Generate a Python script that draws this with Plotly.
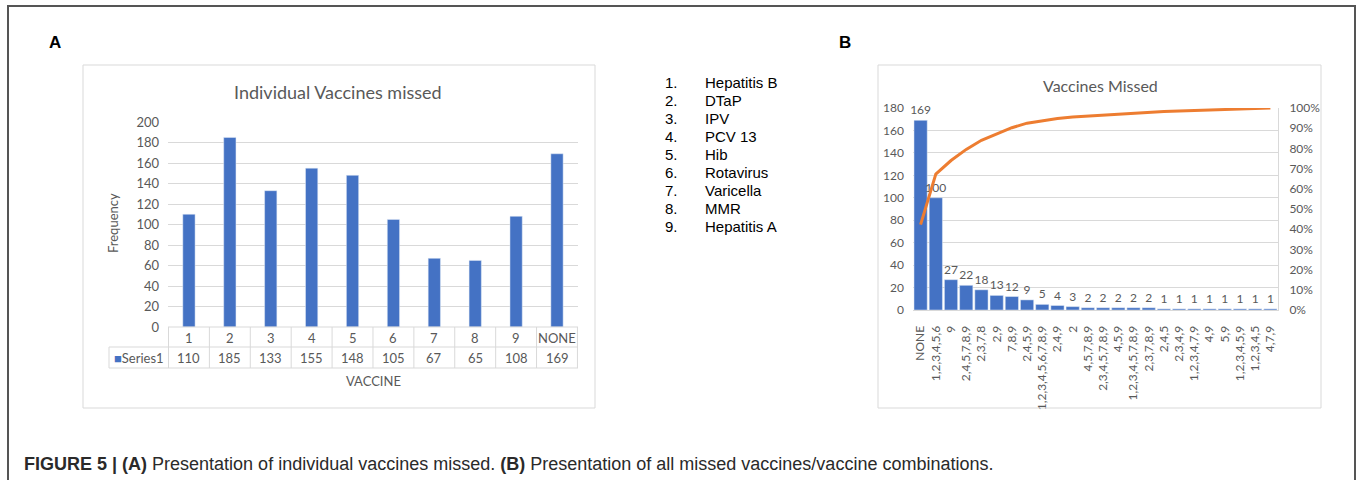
import plotly.graph_objects as go

W, H = 1357, 480

# Panel A: individual vaccines missed
vaccine_ids = ["1", "2", "3", "4", "5", "6", "7", "8", "9", "NONE"]
vaccine_counts = [110, 185, 133, 155, 148, 105, 67, 65, 108, 169]

vaccine_names = ["Hepatitis B", "DTaP", "IPV", "PCV 13", "Hib",
                 "Rotavirus", "Varicella", "MMR", "Hepatitis A"]

# Panel B: all missed vaccine combinations (Pareto)
combo_labels = ["NONE", "1,2,3,4,5,6", "9", "2,4,5,7,8,9", "2,3,7,8", "2,9",
                "7,8,9", "2,4,5,9", "1,2,3,4,5,6,7,8,9", "2,4,9", "2",
                "4,5,7,8,9", "2,3,4,5,7,8,9", "4,5,9", "1,2,3,4,5,7,8,9",
                "2,3,7,8,9", "2,4,5", "2,3,4,9", "1,2,3,4,7,9", "4,9", "5,9",
                "1,2,3,4,5,9", "1,2,3,4,5", "4,7,9"]
combo_counts = [169, 100, 27, 22, 18, 13, 12, 9, 5, 4, 3, 2, 2, 2, 2, 2,
                1, 1, 1, 1, 1, 1, 1, 1]

# cumulative share for the Pareto line
total = sum(combo_counts)
cum_share = []
running = 0
for c in combo_counts:
    running += c
    cum_share.append(running / total)

BLUE = "#4472C4"
ORANGE = "#ED7D31"
GRID = "#D9D9D9"
TXT = "#595959"
CHART_FONT = "Lato"


def px_x(x):
    return x / W


def px_y(y):
    return 1 - y / H


def note(text, x, y, xref="paper", size=13, color=TXT, family=CHART_FONT,
         xanchor="center", angle=0):
    xv = px_x(x) if xref == "paper" else x
    return dict(x=xv, y=px_y(y), xref=xref, yref="paper", text=text,
                xanchor=xanchor, yanchor="middle", textangle=angle,
                showarrow=False,
                font=dict(family=family, size=size, color=color))


fig = go.Figure()

fig.add_trace(go.Bar(
    x=vaccine_ids, y=vaccine_counts, marker_color=BLUE,
    xaxis="x", yaxis="y", showlegend=False,
))

fig.add_trace(go.Bar(
    x=combo_labels, y=combo_counts, marker_color=BLUE, width=0.87,
    text=[str(v) for v in combo_counts], textposition="outside",
    constraintext="none",
    textfont=dict(family=CHART_FONT, size=12, color=TXT),
    cliponaxis=False, xaxis="x2", yaxis="y2", showlegend=False,
))

fig.add_trace(go.Scatter(
    x=combo_labels, y=cum_share, mode="lines",
    line=dict(color=ORANGE, width=3), xaxis="x2", yaxis="y3",
    showlegend=False,
))

# axis geometry in pixels
A_L, A_R, A_T, A_B = 168, 578, 122, 327
B_L, B_R, B_T, B_B = 913, 1278, 108, 310

shapes = []
annotations = []

# outer frame
shapes.append(dict(type="rect", xref="paper", yref="paper",
                   x0=px_x(8), x1=px_x(1355), y0=px_y(482), y1=px_y(6),
                   line=dict(color="#555555", width=2)))
# chart boxes
for (l, t, r, b) in [(83, 65, 595, 408), (878, 65, 1321, 408)]:
    shapes.append(dict(type="rect", xref="paper", yref="paper",
                       x0=px_x(l), x1=px_x(r), y0=px_y(b), y1=px_y(t),
                       line=dict(color=GRID, width=1)))

# data table beneath panel A
ROW1_B, ROW2_B = 347, 368
for y in [A_B, ROW1_B, ROW2_B]:
    x0 = A_L if y == A_B else 109
    shapes.append(dict(type="line", xref="paper", yref="paper",
                       x0=px_x(x0), x1=px_x(A_R), y0=px_y(y), y1=px_y(y),
                       line=dict(color=GRID, width=1)))
for i in range(len(vaccine_ids) + 1):
    shapes.append(dict(type="line", xref="x", yref="paper",
                       x0=i - 0.5, x1=i - 0.5, y0=px_y(ROW2_B), y1=px_y(A_B),
                       line=dict(color=GRID, width=1)))
shapes.append(dict(type="line", xref="paper", yref="paper",
                   x0=px_x(109), x1=px_x(109), y0=px_y(ROW2_B), y1=px_y(ROW1_B),
                   line=dict(color=GRID, width=1)))

# table cells are placed by category index on the x axis
for i, (vid, cnt) in enumerate(zip(vaccine_ids, vaccine_counts)):
    annotations.append(note(vid, i, 337.5, xref="x"))
    annotations.append(note(str(cnt), i, 358, xref="x"))
annotations.append(note(f'<span style="color:{BLUE}">■</span>Series1',
                        138.5, 358))
annotations.append(note("VACCINE", 373, 381))
annotations.append(note("Frequency", 113, 223, angle=-90))
annotations.append(note("Individual Vaccines missed", 338, 92, size=18))
annotations.append(note("Vaccines Missed", 1100, 85, size=16))

# panel letters
for letter, x in [("A", 55), ("B", 845)]:
    annotations.append(note(f"<b>{letter}</b>", x, 42, size=17,
                            color="black", family="Liberation Sans"))

# vaccine key
for i, name in enumerate(vaccine_names):
    y = 83 + i * 17.9
    annotations.append(note(f"{i + 1}.", 663, y, size=15, color="black",
                            family="Liberation Sans", xanchor="left"))
    annotations.append(note(name, 703, y, size=15, color="black",
                            family="Liberation Sans", xanchor="left"))

# figure caption
annotations.append(note(
    "<b>FIGURE 5 | (A)</b> Presentation of individual vaccines missed. "
    "<b>(B)</b> Presentation of all missed vaccines/vaccine combinations.",
    22, 464, size=18, color="#2a2a2a", family="Liberation Sans",
    xanchor="left"))

tick_font = dict(family=CHART_FONT, size=13, color=TXT)
tick_font_b = dict(family=CHART_FONT, size=12, color=TXT)

fig.update_layout(
    width=W, height=H,
    margin=dict(l=0, r=0, t=0, b=0, pad=0, autoexpand=False),
    paper_bgcolor="white", plot_bgcolor="white",
    bargap=0.7,
    shapes=shapes, annotations=annotations,
    xaxis=dict(domain=[px_x(A_L), px_x(A_R)], type="category",
               showticklabels=False, showgrid=False, zeroline=False,
               automargin=False),
    yaxis=dict(domain=[px_y(A_B), px_y(A_T)], range=[0, 200], dtick=20,
               gridcolor=GRID, zeroline=False, showline=False,
               tickfont=tick_font, ticklabelstandoff=8, automargin=False),
    xaxis2=dict(domain=[px_x(B_L), px_x(B_R)], type="category",
                anchor="y2", tickangle=-90,
                tickfont=dict(family=CHART_FONT, size=12, color=TXT),
                showgrid=False, showline=True, linecolor=GRID,
                ticklabelstandoff=10, automargin=False),
    yaxis2=dict(domain=[px_y(B_B), px_y(B_T)], range=[0, 180], dtick=20,
                anchor="x2", gridcolor=GRID, zeroline=False,
                tickfont=tick_font_b, ticklabelstandoff=8, automargin=False),
    yaxis3=dict(range=[0, 1], dtick=0.1, tickformat=".0%",
                overlaying="y2", side="right", anchor="x2",
                showgrid=False, zeroline=False, showline=True,
                linecolor=GRID, tickfont=tick_font_b, ticklabelstandoff=8,
                automargin=False),
)

fig.write_html("out.html")
